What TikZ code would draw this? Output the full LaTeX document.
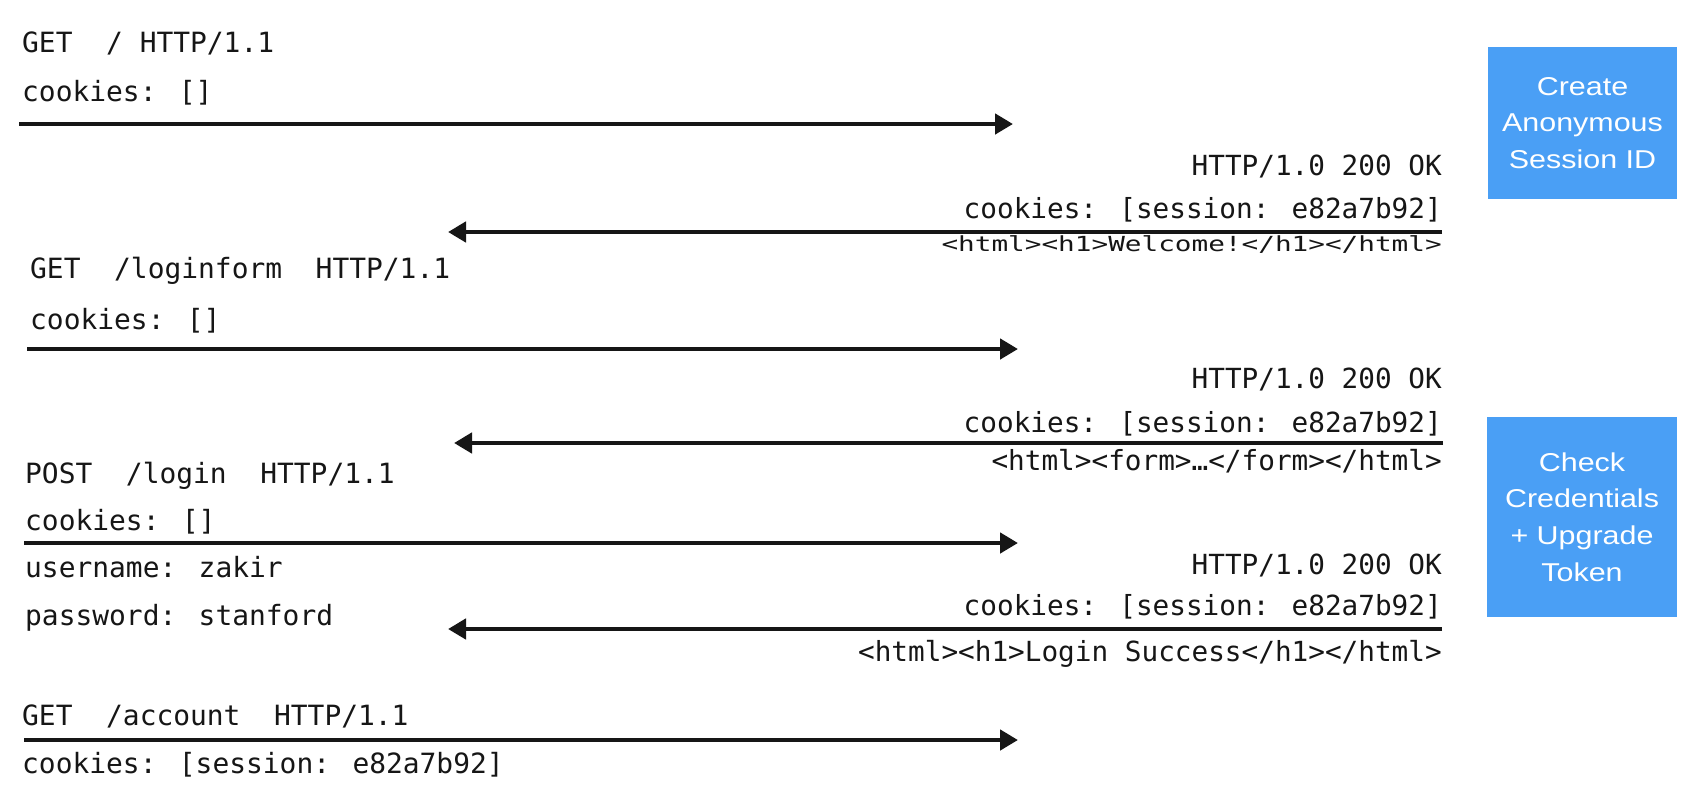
\documentclass[tikz,border=0pt]{standalone}
\usepackage{fontspec}
\usepackage{graphicx}
\newfontfamily\monofont{DejaVu Sans Mono}
\newfontfamily\boxfont[FakeStretch=1.18]{Liberation Sans}
\usetikzlibrary{arrows.meta}
\definecolor{boxblue}{RGB}{74,159,245}
\definecolor{inkc}{RGB}{22,22,22}
\begin{document}
\begin{tikzpicture}[x=1pt,y=-1pt,
  msg/.style={line width=4.5pt, draw=inkc, -{Triangle[length=18pt,width=20pt]}},
  req/.style={anchor=base west, inner sep=0pt, text=inkc, font=\monofont\fontsize{27.9}{27.9}\selectfont},
  resp/.style={anchor=base east, inner sep=0pt, text=inkc, font=\monofont\fontsize{27.7}{27.7}\selectfont},
  action/.style={fill=boxblue, text=white, align=center, inner sep=0pt,
    font=\boxfont\fontsize{25.8}{36.7}\selectfont}
]
\useasboundingbox (0,0) rectangle (1694,804);
\fill[white] (0,0) rectangle (1694,804);

% ---- request 1
\node[req] (r1a) at (22,52) {GET~~/ HTTP/1.1};
\node[req] (r1b) at (22,101) {cookies: []};
\coordinate (c1) at (19,124);
\coordinate (s1) at (1013,124);
\draw[msg] (c1) -- (s1);

% ---- action box 1
\node[action, minimum width=189pt, minimum height=152pt] (a1) at (1582.5,123) {Create\\Anonymous\\Session ID};

% ---- response 2
\node[resp] (p2a) at (1442,175) {HTTP/1.0 200 OK};
\node[resp] (p2b) at (1442,218) {cookies: [session: e82a7b92]};
\coordinate (s2) at (1442,232);
\coordinate (c2) at (448,232);
\draw[msg] (s2) -- (c2);
\node[resp] (p2c) at (1442,251) {\scalebox{1}[0.75]{<html><h1>Welcome!</h1></html>}};

% ---- request 3
\node[req] (r3a) at (30,278) {GET~~/loginform~~HTTP/1.1};
\node[req] (r3b) at (30,329) {cookies: []};
\coordinate (c3) at (27,349);
\coordinate (s3) at (1018,349);
\draw[msg] (c3) -- (s3);

% ---- response 4
\node[resp] (p4a) at (1442,388) {HTTP/1.0 200 OK};
\node[resp] (p4b) at (1442,432) {cookies: [session: e82a7b92]};
\coordinate (s4) at (1443,443);
\coordinate (c4) at (454,443);
\draw[msg] (s4) -- (c4);
\node[resp] (p4c) at (1442,470) {<html><form>…</form></html>};

% ---- action box 2
\node[action, minimum width=190pt, minimum height=200pt] (a2) at (1582,517) {Check\\Credentials\\+ Upgrade\\Token};

% ---- request 5
\node[req] (r5a) at (25,483) {POST~~/login~~HTTP/1.1};
\node[req] (r5b) at (25,530) {cookies: []};
\coordinate (c5) at (24,543);
\coordinate (s5) at (1018,543);
\draw[msg] (c5) -- (s5);
\node[req] (r5c) at (25,577) {username: zakir};
\node[req] (r5d) at (25,625) {password: stanford};

% ---- response 6
\node[resp] (p6a) at (1442,574) {HTTP/1.0 200 OK};
\node[resp] (p6b) at (1442,615) {cookies: [session: e82a7b92]};
\coordinate (s6) at (1442,629);
\coordinate (c6) at (448,629);
\draw[msg] (s6) -- (c6);
\node[resp] (p6c) at (1442,661) {<html><h1>Login Success</h1></html>};

% ---- request 7
\node[req] (r7a) at (22,725) {GET~~/account~~HTTP/1.1};
\coordinate (c7) at (24,740);
\coordinate (s7) at (1018,740);
\draw[msg] (c7) -- (s7);
\node[req] (r7b) at (22,773) {cookies: [session: e82a7b92]};
\end{tikzpicture}
\end{document}
